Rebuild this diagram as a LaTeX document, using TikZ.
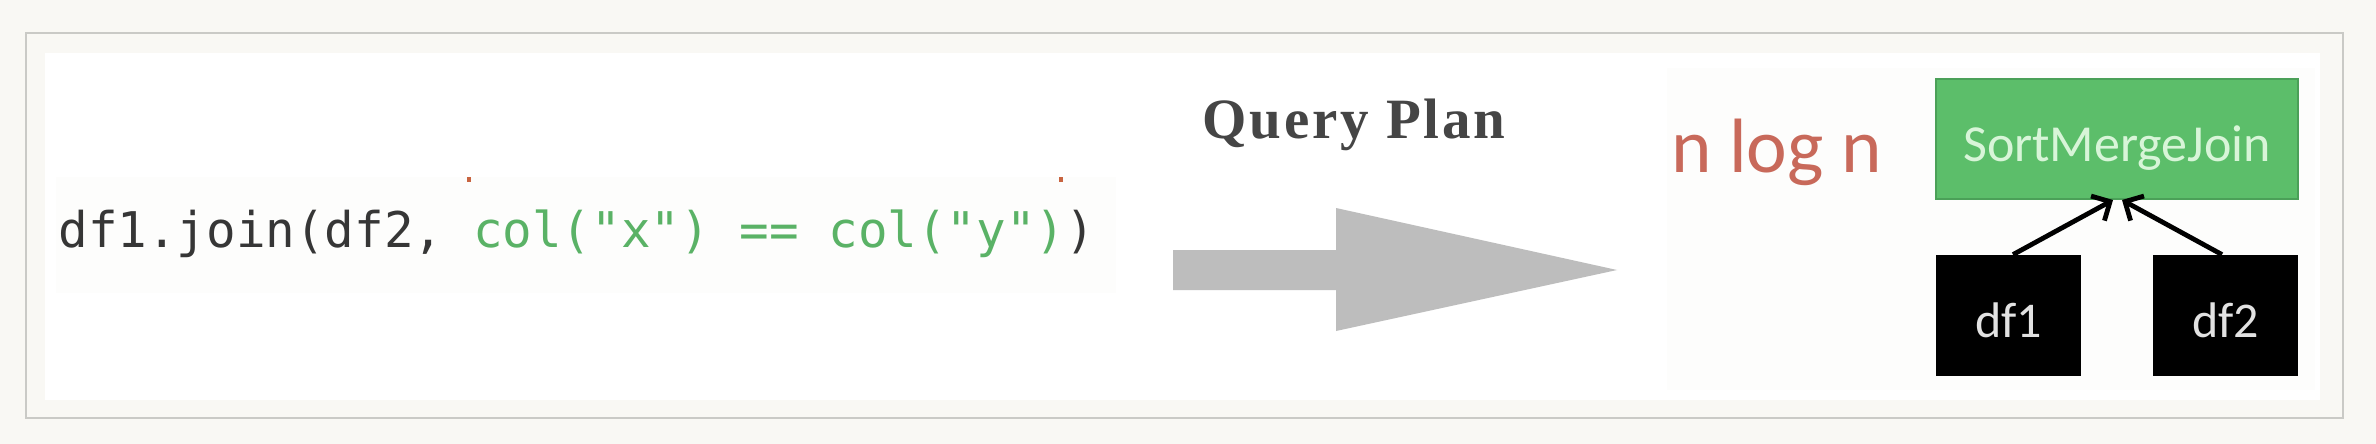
\documentclass[tikz,border=0pt]{standalone}
\usepackage{fontspec}
\setmainfont{Liberation Serif}
\newfontfamily\codefont{DejaVu Sans Mono}
\newfontfamily\calfont{Carlito}
\newfontfamily\titlefont[LetterSpace=5]{Liberation Serif}
\usetikzlibrary{arrows.meta}
\definecolor{bgcream}{HTML}{F9F8F4}
\definecolor{framegray}{HTML}{CACAC6}
\definecolor{codebg}{HTML}{FDFDFC}
\definecolor{planbg}{HTML}{FDFDFC}
\definecolor{redmark}{HTML}{C86440}
\definecolor{codedark}{HTML}{363636}
\definecolor{codegreen}{HTML}{5AB266}
\definecolor{titlegray}{HTML}{454545}
\definecolor{arrowgray}{HTML}{BDBDBD}
\definecolor{salmon}{HTML}{C8695A}
\definecolor{smjfill}{HTML}{5CBE6A}
\definecolor{smjedge}{HTML}{4BA058}
\definecolor{smjtext}{HTML}{D8F5D8}
\definecolor{dftext}{HTML}{E2E2E2}
\tikzset{
  codetext/.style={inner sep=0pt, font=\codefont\fontsize{24.6pt}{28pt}\selectfont, text=codedark},
  titletext/.style={inner sep=0pt, font=\titlefont\bfseries\fontsize{28.5pt}{32pt}\selectfont, text=titlegray},
  costtext/.style={inner sep=0pt, font=\calfont\fontsize{38.5pt}{42pt}\selectfont, text=salmon},
  smjbox/.style={draw=smjedge, line width=1pt, fill=smjfill, minimum width=181pt, minimum height=60pt,
    inner sep=0pt, text height=23pt, text depth=0pt, text=smjtext, font=\calfont\fontsize{26pt}{30pt}\selectfont},
  dfbox/.style={fill=black, minimum width=72.5pt, minimum height=60.5pt,
    inner sep=0pt, text height=21.5pt, text depth=0pt, text=dftext, font=\calfont\fontsize{25pt}{28pt}\selectfont},
  conn/.style={line width=2.4pt, -{Straight Barb[length=7pt,width=14pt]}}
}
\begin{document}
\begin{tikzpicture}[x=0.5pt,y=-0.5pt]
\useasboundingbox (0,0) rectangle (2376,444);
\fill[bgcream] (0,0) rectangle (2376,444);
\draw[framegray, line width=1.2pt] (26,33) rectangle (2343,418);
\fill[white] (45,53) rectangle (2320,400);
\fill[codebg] (56,177) rectangle (1116,293);
\fill[planbg] (1667,68) rectangle (2315,390);
\fill[redmark] (467,177) rectangle (471,182);
\fill[redmark] (1059,177) rectangle (1063,182);
% code line
\node[codetext, anchor=base west] (code) at (58,247)
  {df1.join(df2, \textcolor{codegreen}{col("x") == col("y")})};
% title
\node[titletext, anchor=base] (title) at (1354,139) {Query Plan};
% big arrow
\fill[arrowgray] (1173,250) -- (1336,250) -- (1336,208) -- (1617,270)
  -- (1336,331) -- (1336,290) -- (1173,290) -- cycle;
% cost
\node[costtext, anchor=base west] (cost) at (1671,172) {n log n};
% plan
\node[smjbox] (smj) at (2117,139) {SortMergeJoin};
\node[dfbox] (df1) at (2008.5,315.5) {df1};
\node[dfbox] (df2) at (2225.5,315.5) {df2};
\draw[conn] ([xshift=2.25pt]df1.north) -- ([xshift=-2pt]smj.south);
\draw[conn] ([xshift=-1.75pt]df2.north) -- ([xshift=2.5pt]smj.south);
\end{tikzpicture}
\end{document}
